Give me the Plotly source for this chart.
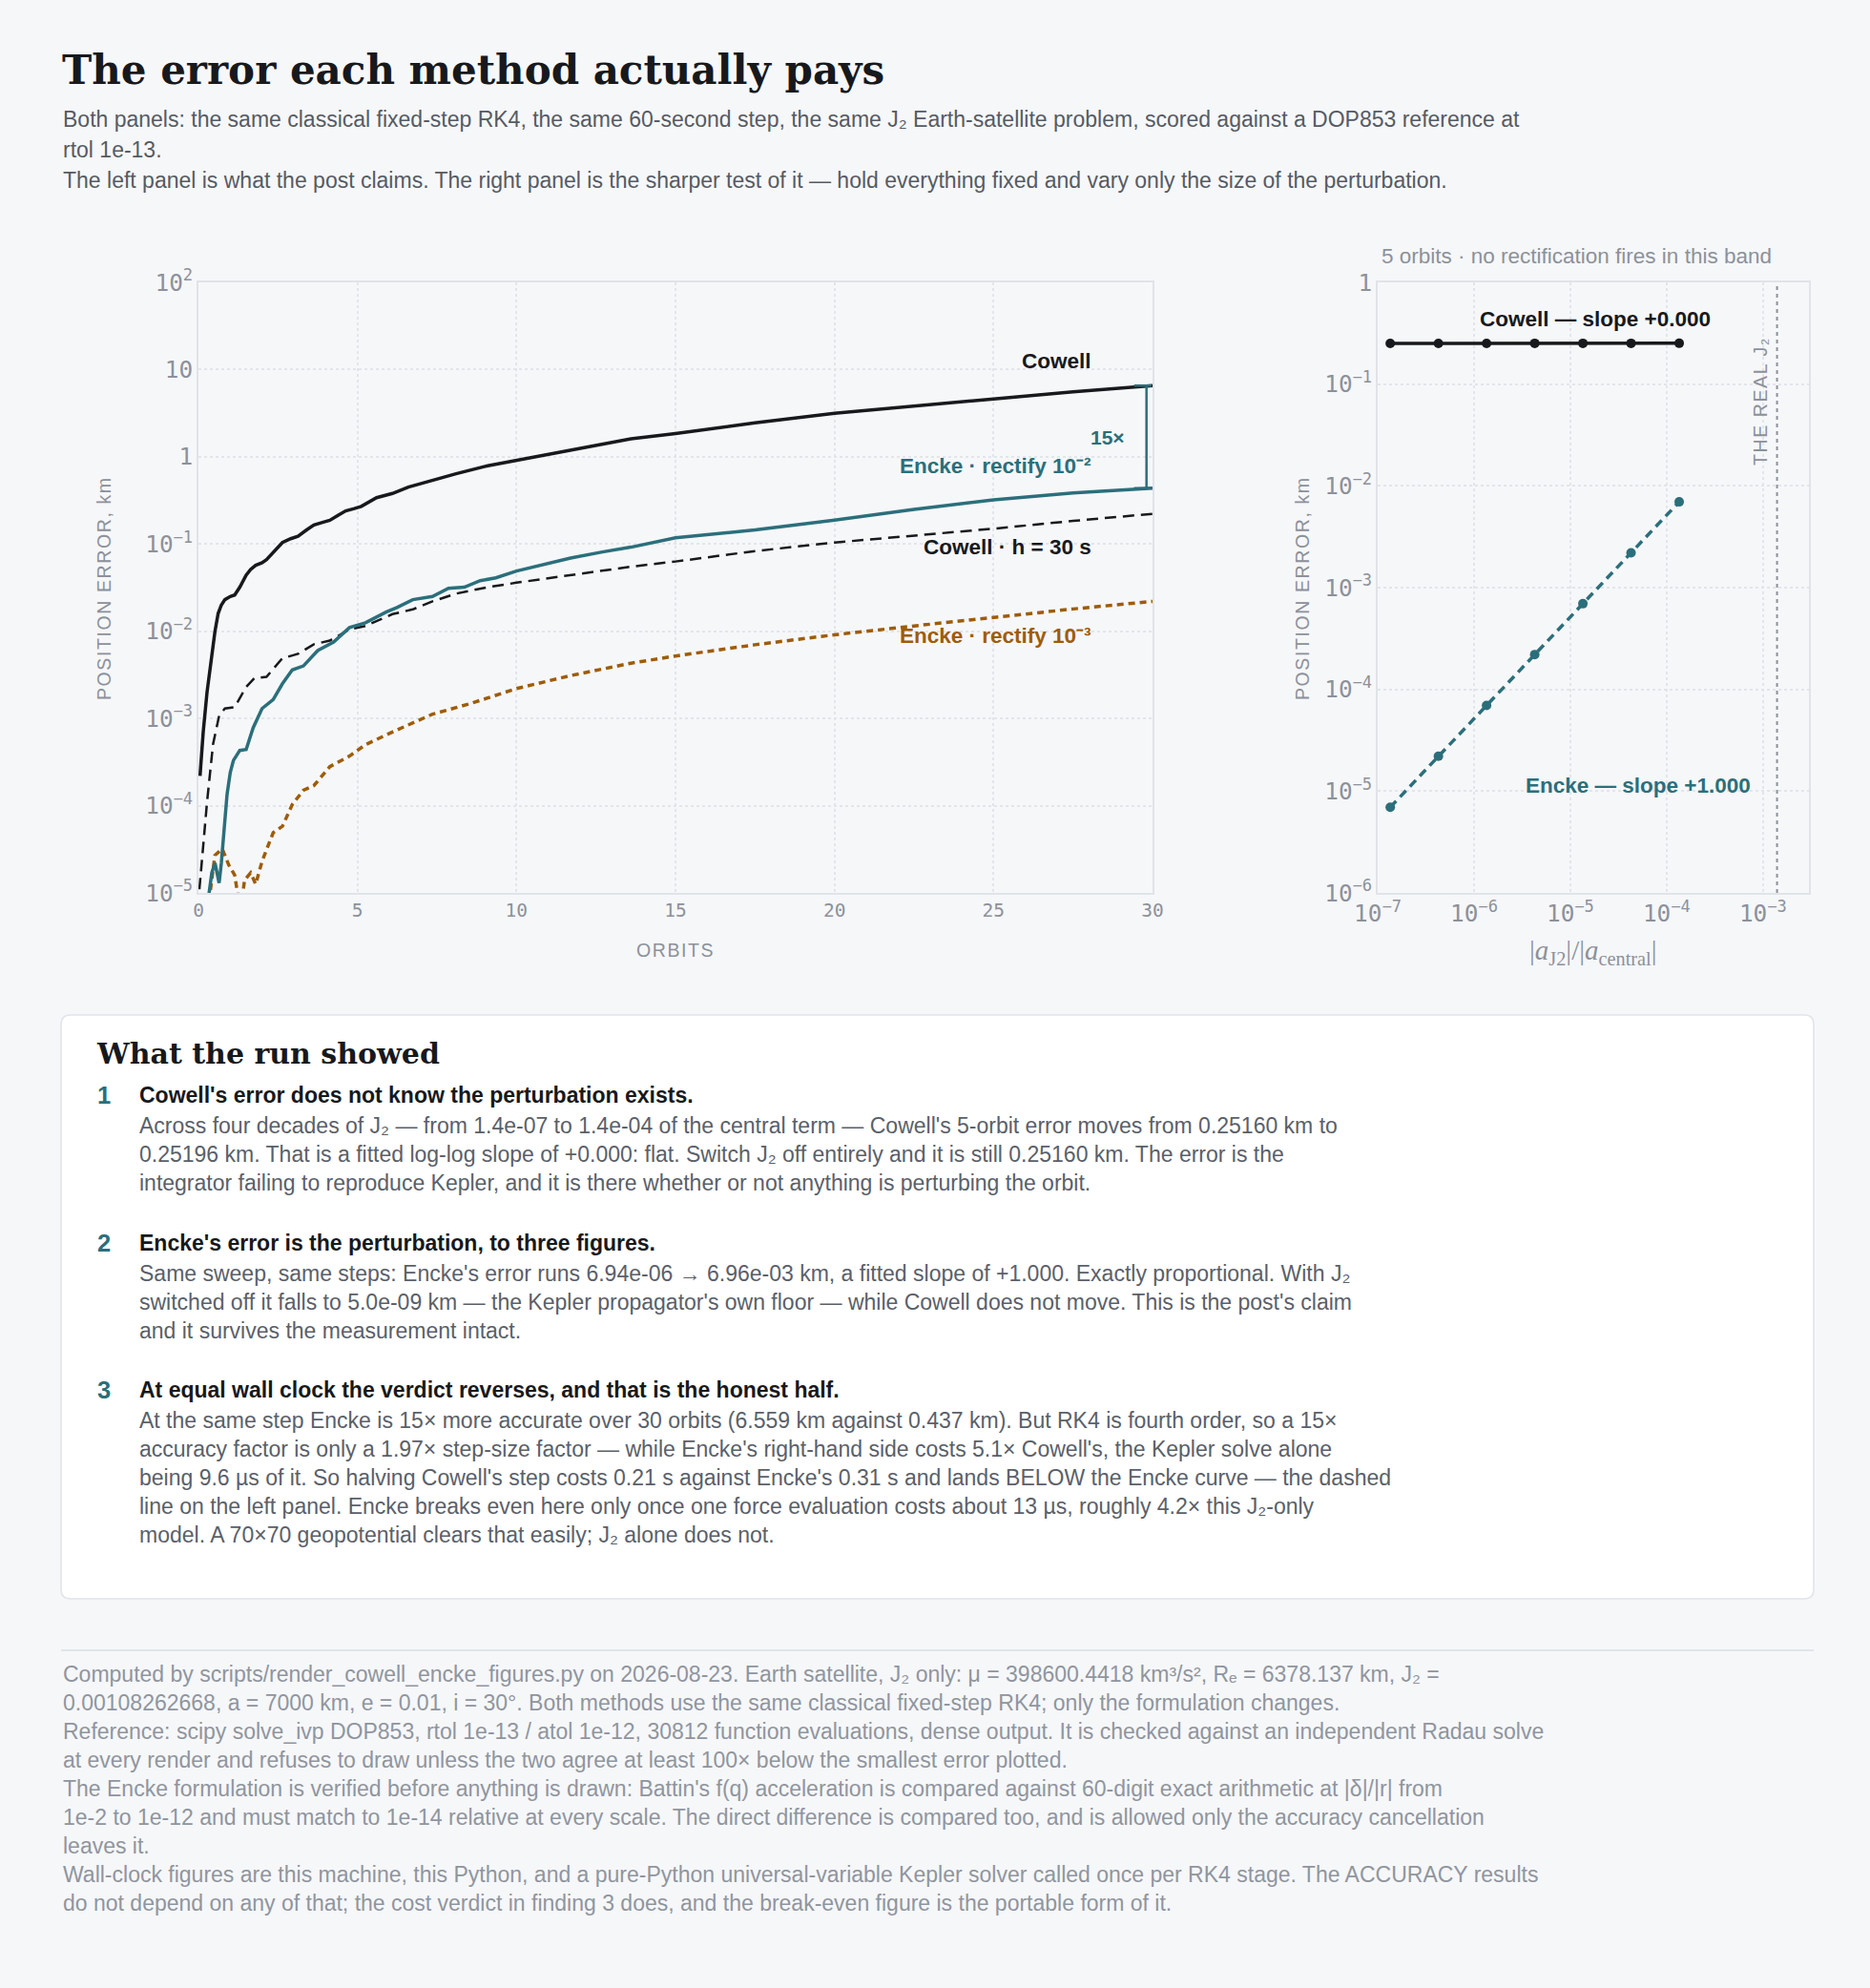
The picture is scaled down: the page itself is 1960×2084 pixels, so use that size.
import math
import plotly.graph_objects as go

W, H = 1960, 2084

# left panel: position error vs orbits
cowell_orbit = [0.05, 0.15, 0.27, 0.4, 0.52, 0.62, 0.72, 0.83, 1.0, 1.14, 1.3, 1.5, 1.64, 1.8, 2.0,
                2.14, 2.4, 2.64, 2.9, 3.13, 3.4, 3.63, 3.9, 4.13, 4.4, 4.63, 4.9, 5.12, 5.6, 6.1,
                6.6, 7.36, 8.1, 9.1, 10, 11.1, 12.3, 13.6, 15, 17.5, 20, 22.5, 25, 27.5, 30]
cowell_err = [2.2e-4, 7e-4, 2.0e-3, 5e-3, 0.010, 0.016, 0.020, 0.023, 0.025, 0.026, 0.032, 0.044,
              0.051, 0.057, 0.061, 0.066, 0.085, 0.104, 0.115, 0.123, 0.145, 0.165, 0.177, 0.187,
              0.215, 0.24, 0.255, 0.27, 0.34, 0.38, 0.45, 0.54, 0.64, 0.79, 0.91, 1.08, 1.31, 1.61,
              1.85, 2.45, 3.16, 3.85, 4.6, 5.55, 6.559]

cowell30_orbit = [0.03, 0.27, 0.46, 0.65, 0.83, 1.14, 1.5, 1.76, 2.14, 2.64, 3.13, 3.63, 4.13, 4.75,
                  5.25, 6.1, 6.74, 7.36, 8.1, 9.1, 10, 11.1, 12.3, 13.6, 15, 17.5, 20, 22.5, 25,
                  27.5, 30]
cowell30_err = [1.1e-5, 1.1e-4, 5.1e-4, 1.07e-3, 1.3e-3, 1.35e-3, 2.3e-3, 2.9e-3, 3.0e-3, 4.9e-3,
                5.5e-3, 7.1e-3, 7.8e-3, 0.0105, 0.0115, 0.0157, 0.0178, 0.022, 0.027, 0.032, 0.036,
                0.041, 0.048, 0.055, 0.063, 0.083, 0.104, 0.125, 0.15, 0.184, 0.222]

encke2_orbit = [0.3, 0.42, 0.52, 0.6, 0.65, 0.72, 0.8, 0.9, 1.0, 1.1, 1.3, 1.5, 1.72, 2.0, 2.35,
                2.64, 2.95, 3.3, 3.75, 4.25, 4.75, 5.25, 5.9, 6.24, 6.74, 7.36, 7.86, 8.36, 8.86,
                9.35, 10, 10.85, 11.7, 12.7, 13.6, 15, 17.5, 20, 22.5, 25, 27.5, 30]
encke2_err = [8e-6, 1.7e-5, 2.2e-5, 1.6e-5, 1.3e-5, 2.2e-5, 5e-5, 1.35e-4, 2.4e-4, 3.3e-4, 4.3e-4,
              4.4e-4, 7.8e-4, 1.3e-3, 1.65e-3, 2.5e-3, 3.6e-3, 4.0e-3, 6.0e-3, 7.5e-3, 0.011,
              0.0125, 0.0166, 0.0187, 0.023, 0.025, 0.031, 0.032, 0.038, 0.041, 0.049, 0.058,
              0.069, 0.081, 0.092, 0.118, 0.145, 0.188, 0.25, 0.32, 0.384, 0.437]

encke3_orbit = [0.33, 0.45, 0.52, 0.75, 0.95, 1.14, 1.27, 1.38, 1.45, 1.64, 1.8, 2.0, 2.35, 2.64,
                2.95, 3.3, 3.63, 4.13, 4.75, 5.25, 6.1, 7.36, 8.6, 10, 11.7, 13.6, 15, 17.5, 20,
                22.5, 25, 27.5, 30]
encke3_err = [8e-6, 1.8e-5, 2.7e-5, 3.2e-5, 2.1e-5, 1.6e-5, 8e-6, 9e-6, 1.4e-5, 1.7e-5, 1.26e-5,
              2.3e-5, 4.9e-5, 5.8e-5, 1.03e-4, 1.5e-4, 1.7e-4, 2.8e-4, 3.7e-4, 5.0e-4, 7.0e-4,
              1.12e-3, 1.5e-3, 2.2e-3, 3.1e-3, 4.3e-3, 5.2e-3, 7.0e-3, 9.1e-3, 0.0115, 0.0145,
              0.018, 0.022]

# right panel: 5-orbit error vs perturbation size
ratio = [1.35e-7, 4.27e-7, 1.35e-6, 4.27e-6, 1.35e-5, 4.27e-5, 1.35e-4]
cowell_sweep = [0.25160, 0.25161, 0.25163, 0.25167, 0.25175, 0.25185, 0.25196]
encke_sweep = [6.94e-6, 2.20e-5, 6.95e-5, 2.20e-4, 6.95e-4, 2.20e-3, 6.96e-3]
REAL_J2 = 1.4e-3

subtitle = [
    "Both panels: the same classical fixed-step RK4, the same 60-second step, the same J₂ Earth-satellite problem, scored against a DOP853 reference at",
    "rtol 1e-13.",
    "The left panel is what the post claims. The right panel is the sharper test of it — hold everything fixed and vary only the size of the perturbation.",
]
findings = [
    ("Cowell's error does not know the perturbation exists.", [
        "Across four decades of J₂ — from 1.4e-07 to 1.4e-04 of the central term — Cowell's 5-orbit error moves from 0.25160 km to",
        "0.25196 km. That is a fitted log-log slope of +0.000: flat. Switch J₂ off entirely and it is still 0.25160 km. The error is the",
        "integrator failing to reproduce Kepler, and it is there whether or not anything is perturbing the orbit.",
    ]),
    ("Encke's error is the perturbation, to three figures.", [
        "Same sweep, same steps: Encke's error runs 6.94e-06 → 6.96e-03 km, a fitted slope of +1.000. Exactly proportional. With J₂",
        "switched off it falls to 5.0e-09 km — the Kepler propagator's own floor — while Cowell does not move. This is the post's claim",
        "and it survives the measurement intact.",
    ]),
    ("At equal wall clock the verdict reverses, and that is the honest half.", [
        "At the same step Encke is 15× more accurate over 30 orbits (6.559 km against 0.437 km). But RK4 is fourth order, so a 15×",
        "accuracy factor is only a 1.97× step-size factor — while Encke's right-hand side costs 5.1× Cowell's, the Kepler solve alone",
        "being 9.6 µs of it. So halving Cowell's step costs 0.21 s against Encke's 0.31 s and lands BELOW the Encke curve — the dashed",
        "line on the left panel. Encke breaks even here only once one force evaluation costs about 13 µs, roughly 4.2× this J₂-only",
        "model. A 70×70 geopotential clears that easily; J₂ alone does not.",
    ]),
]
footer = [
    "Computed by scripts/render_cowell_encke_figures.py on 2026-08-23. Earth satellite, J₂ only: μ = 398600.4418 km³/s², Rₑ = 6378.137 km, J₂ =",
    "0.00108262668, a = 7000 km, e = 0.01, i = 30°. Both methods use the same classical fixed-step RK4; only the formulation changes.",
    "Reference: scipy solve_ivp DOP853, rtol 1e-13 / atol 1e-12, 30812 function evaluations, dense output. It is checked against an independent Radau solve",
    "at every render and refuses to draw unless the two agree at least 100× below the smallest error plotted.",
    "The Encke formulation is verified before anything is drawn: Battin's f(q) acceleration is compared against 60-digit exact arithmetic at |δ|/|r| from",
    "1e-2 to 1e-12 and must match to 1e-14 relative at every scale. The direct difference is compared too, and is allowed only the accuracy cancellation",
    "leaves it.",
    "Wall-clock figures are this machine, this Python, and a pure-Python universal-variable Kepler solver called once per RK4 stage. The ACCURACY results",
    "do not depend on any of that; the cost verdict in finding 3 does, and the break-even figure is the portable form of it.",
]

BG = "#f6f7f9"
INK = "#17191c"
TEAL = "#2b6f7b"
BROWN = "#9e5c08"
MUTED = "#8c919a"
BODY = "#5a6069"
GRID = "#e2e5ea"
SANS = "Liberation Sans, Arial, sans-serif"
SERIF = "DejaVu Serif, serif"
MONO = "DejaVu Sans Mono, monospace"


def px(x):
    return x / W


def py(y):
    return 1 - y / H


fig = go.Figure()

fig.add_trace(go.Scatter(x=cowell30_orbit, y=cowell30_err, mode="lines",
                         line=dict(color=INK, width=2.5, dash="12px,7px")))
fig.add_trace(go.Scatter(x=encke3_orbit, y=encke3_err, mode="lines",
                         line=dict(color=BROWN, width=3.5, dash="7px,5px")))
fig.add_trace(go.Scatter(x=encke2_orbit, y=encke2_err, mode="lines",
                         line=dict(color=TEAL, width=3.5)))
fig.add_trace(go.Scatter(x=cowell_orbit, y=cowell_err, mode="lines",
                         line=dict(color=INK, width=3.5)))

# 15x bracket between the two end values
top, bot = cowell_err[-1], encke2_err[-1]
fig.add_trace(go.Scatter(x=[29.42, 29.97, None, 29.81, 29.81, None, 29.42, 29.97],
                         y=[top, top, None, top, bot, None, bot, bot], mode="lines",
                         line=dict(color=TEAL, width=2.5)))

# right panel
fig.add_trace(go.Scatter(x=[REAL_J2, REAL_J2], y=[1e-6, 1], mode="lines", xaxis="x2", yaxis="y2",
                         line=dict(color=MUTED, width=2, dash="4px,4px")))
fig.add_trace(go.Scatter(x=ratio, y=cowell_sweep, mode="lines+markers", xaxis="x2", yaxis="y2",
                         line=dict(color=INK, width=3.5), marker=dict(color=INK, size=10)))
fig.add_trace(go.Scatter(x=ratio, y=encke_sweep, mode="lines+markers", xaxis="x2", yaxis="y2",
                         line=dict(color=TEAL, width=3.5, dash="9px,6px"),
                         marker=dict(color=TEAL, size=10)))

axis_common = dict(showline=True, linecolor="#e0e3e8", linewidth=2, mirror=True,
                   showgrid=True, gridcolor=GRID, griddash="dot", gridwidth=1.5,
                   zeroline=False, ticks="", automargin=False,
                   tickfont=dict(family=MONO, size=19.5, color=MUTED))
log_common = dict(type="log", dtick=1, exponentformat="power")

fig.update_layout(
    width=W, height=H, margin=dict(l=0, r=0, t=0, b=0, pad=0, autoexpand=False),
    paper_bgcolor=BG, plot_bgcolor=BG, showlegend=False,
    xaxis=dict(domain=[px(208), px(1208)], range=[0, 30], dtick=5, anchor="y", **axis_common),
    yaxis=dict(domain=[py(936), py(296)], range=[-5, 2], anchor="x", **log_common, **axis_common),
    xaxis2=dict(domain=[px(1444), px(1896)], range=[-7, math.log10(3.0e-3)], anchor="y2",
                **log_common, **axis_common),
    yaxis2=dict(domain=[py(936), py(296)], range=[-6, 0], anchor="x2", **log_common, **axis_common),
)

ann = []


def text(x, y, s, size=23, color=BODY, family=SANS, xanchor="left", angle=0):
    ann.append(dict(x=px(x), y=py(y), xref="paper", yref="paper", text=s, showarrow=False,
                    xanchor=xanchor, yanchor="middle", textangle=angle,
                    font=dict(family=family, size=size, color=color)))


def tracked(s):
    return '<span style="letter-spacing:1.6px">%s</span>' % s


# header
text(63, 73, "<b>The error each method actually pays</b>", size=42, color=INK, family=SERIF)
for i, line in enumerate(subtitle):
    text(64, 125 + 32 * i, line, color="#555b64")

# chart labels
text(1146, 378, "<b>Cowell</b>", size=22.5, color=INK, xanchor="right")
text(1181, 458, "<b>15×</b>", size=21, color=TEAL, xanchor="right")
text(1146, 488, "<b>Encke · rectify 10⁻²</b>", size=22.5, color=TEAL, xanchor="right")
text(1146, 573, "<b>Cowell · h = 30 s</b>", size=22.5, color=INK, xanchor="right")
text(1146, 666, "<b>Encke · rectify 10⁻³</b>", size=22.5, color=BROWN, xanchor="right")
text(109, 617, tracked("POSITION ERROR, km"), size=19.5, color=MUTED, xanchor="center", angle=-90)
text(708, 996, tracked("ORBITS"), size=19.5, color=MUTED, xanchor="center")

text(1652, 268, "5 orbits · no rectification fires in this band", size=22.5, color=MUTED,
     xanchor="center")
text(1672, 334, "<b>Cowell — slope +0.000</b>", size=22.5, color=INK, xanchor="center")
text(1717, 823, "<b>Encke — slope +1.000</b>", size=22.5, color=TEAL, xanchor="center")
text(1845, 421, tracked("THE REAL J₂"), size=19.5, color=MUTED, xanchor="center", angle=-90)
text(1365, 617, tracked("POSITION ERROR, km"), size=19.5, color=MUTED, xanchor="center", angle=-90)
text(1670, 998, "|<i>a</i><sub>J2</sub>|/|<i>a</i><sub>central</sub>|", size=29, color=MUTED,
     family="Liberation Serif, serif", xanchor="center")

# findings card
text(99, 1104, "<b>What the run showed</b>", size=30, color=INK, family=SERIF)
ys = [1148, 1303, 1457]
for k, (head, lines) in enumerate(findings):
    y0 = ys[k]
    text(100, y0, "<b>%d</b>" % (k + 1), size=25.5, color=TEAL)
    text(144, y0, "<b>%s</b>" % head, color=INK)
    for j, line in enumerate(lines):
        text(144, y0 + 32 + 30 * j, line, color=BODY)

# footer
for j, line in enumerate(footer):
    text(64, 1755 + 30 * j, line, color="#8f959e")

fig.update_layout(annotations=ann)

# rounded card and footer rule
x0, x1, y0, y1, r = 64, 1901, 1064, 1676, 10
rx, ry = r / W, r / H
X0, X1, Y0, Y1 = px(x0), px(x1), py(y1), py(y0)
card = (f"M {X0 + rx},{Y1} L {X1 - rx},{Y1} Q {X1},{Y1} {X1},{Y1 - ry} "
        f"L {X1},{Y0 + ry} Q {X1},{Y0} {X1 - rx},{Y0} L {X0 + rx},{Y0} "
        f"Q {X0},{Y0} {X0},{Y0 + ry} L {X0},{Y1 - ry} Q {X0},{Y1} {X0 + rx},{Y1} Z")
fig.add_shape(type="path", path=card, xref="paper", yref="paper", layer="below",
              fillcolor="white", line=dict(color="#e1e4e9", width=1.5))
fig.add_shape(type="line", xref="paper", yref="paper", x0=px(64), x1=px(1901),
              y0=py(1730), y1=py(1730), line=dict(color="#e1e4e9", width=2))

fig.write_html("out.html", config={"displayModeBar": False},
               post_script="document.body.style.margin='0';")
